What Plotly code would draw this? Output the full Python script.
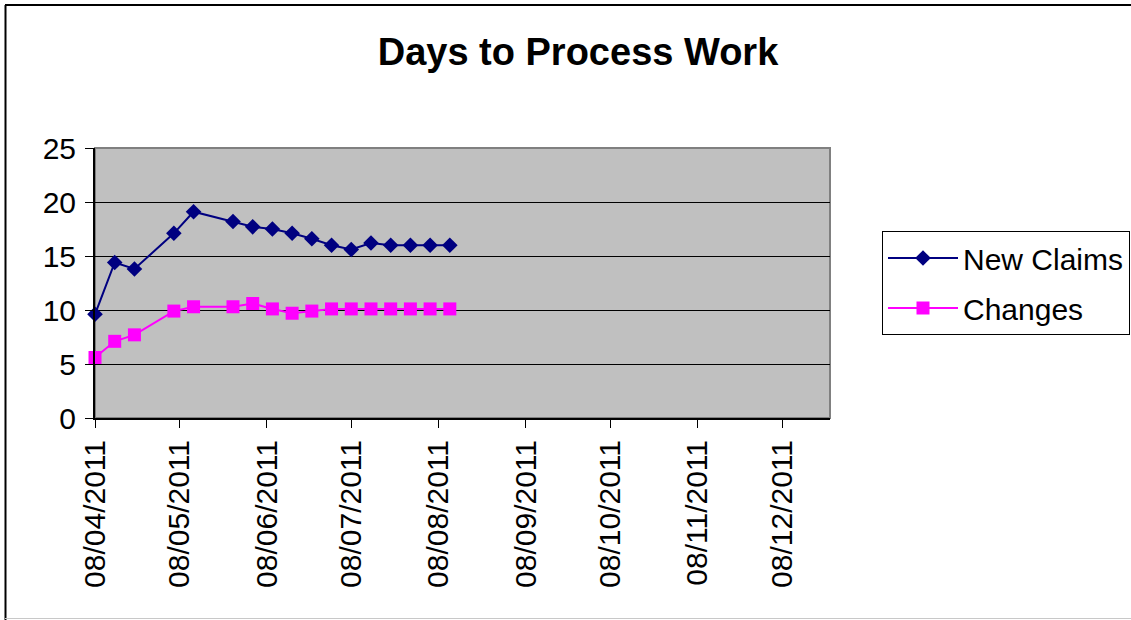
import plotly.graph_objects as go

dates = ["2011-04-08", "2011-04-15", "2011-04-22", "2011-05-06", "2011-05-13",
         "2011-05-27", "2011-06-03", "2011-06-10", "2011-06-17", "2011-06-24",
         "2011-07-01", "2011-07-08", "2011-07-15", "2011-07-22", "2011-07-29",
         "2011-08-05", "2011-08-12"]
new_claims = [9.6, 14.4, 13.8, 17.1, 19.1, 18.2, 17.7, 17.5, 17.1, 16.6,
              16.0, 15.6, 16.2, 16.0, 16.0, 16.0, 16.0]
changes = [5.6, 7.1, 7.7, 9.9, 10.3, 10.3, 10.6, 10.1, 9.7, 9.9,
           10.1, 10.1, 10.1, 10.1, 10.1, 10.1, 10.1]

FONT = "Liberation Sans, Arial, sans-serif"
W, H = 1131, 620
L, R, T, B = 95, 830, 148, 418

fig = go.Figure()
fig.add_trace(go.Scatter(x=dates, y=new_claims, name="New Claims", mode="lines+markers",
                         legendgroup="a", cliponaxis=False,
                         line=dict(color="#000080", width=2),
                         marker=dict(symbol="diamond", size=12, color="#000080")))
fig.add_trace(go.Scatter(x=dates, y=changes, name="Changes", mode="lines+markers",
                         legendgroup="b", cliponaxis=False,
                         line=dict(color="#FF00FF", width=2),
                         marker=dict(symbol="square", size=13, color="#FF00FF")))

def px2x(p):
    return (p - L) / (R - L)

def py2y(p):
    return (B - p) / (B - T)

shapes = [
    # plot area frame
    dict(type="rect", xref="paper", yref="paper", x0=0, x1=1, y0=0, y1=1,
         line=dict(color="#808080", width=2), layer="below"),
    # outer chart border
    dict(type="line", xref="paper", yref="paper", x0=px2x(5), x1=px2x(1140),
         y0=py2y(5), y1=py2y(5), line=dict(color="black", width=2)),
    dict(type="line", xref="paper", yref="paper", x0=px2x(5.5), x1=px2x(5.5),
         y0=py2y(5), y1=py2y(620), line=dict(color="black", width=2)),
    dict(type="line", xref="paper", yref="paper", x0=px2x(5), x1=px2x(1140),
         y0=py2y(618.5), y1=py2y(618.5), line=dict(color="#c8c8c8", width=1)),
]

fig.update_layout(
    width=W, height=H,
    margin=dict(l=L, r=W - R, t=T, b=H - B, pad=0, autoexpand=False),
    paper_bgcolor="white", plot_bgcolor="#C0C0C0",
    font=dict(family=FONT, color="black", size=30),
    title=dict(text="<b>Days to Process Work</b>", x=578 / W, xref="container", xanchor="center",
               y=1 - 52 / H, yref="container", yanchor="middle",
               font=dict(family=FONT, size=38, color="black")),
    showlegend=True,
    legend=dict(x=px2x(882), y=py2y(231), xanchor="left", yanchor="top",
                bgcolor="white", bordercolor="black", borderwidth=1,
                font=dict(family=FONT, size=30, color="black"),
                itemwidth=70, tracegroupgap=8, traceorder="grouped"),
    shapes=shapes,
    xaxis=dict(type="date", range=["2011-04-08", "2011-12-25"],
               tick0="2011-04-08", dtick="M1", tickformat="%d/%m/%Y",
               tickangle=-90, ticks="outside", ticklen=8, tickcolor="black",
               tickwidth=1, ticklabelstandoff=0, automargin=False,
               showgrid=False, showline=True, linecolor="black", linewidth=2,
               zeroline=False, tickfont=dict(size=30)),
    yaxis=dict(range=[0, 25], dtick=5, ticks="outside", ticklen=8, tickcolor="black",
               tickwidth=1, ticklabelstandoff=3, automargin=False,
               showgrid=True, gridcolor="black", gridwidth=1,
               showline=True, linecolor="black", linewidth=2,
               zeroline=False, tickfont=dict(size=30)),
)

fig.write_html("out.html", config={"displayModeBar": False},
               post_script="document.body.style.margin='0px';document.body.style.overflow='hidden';")
